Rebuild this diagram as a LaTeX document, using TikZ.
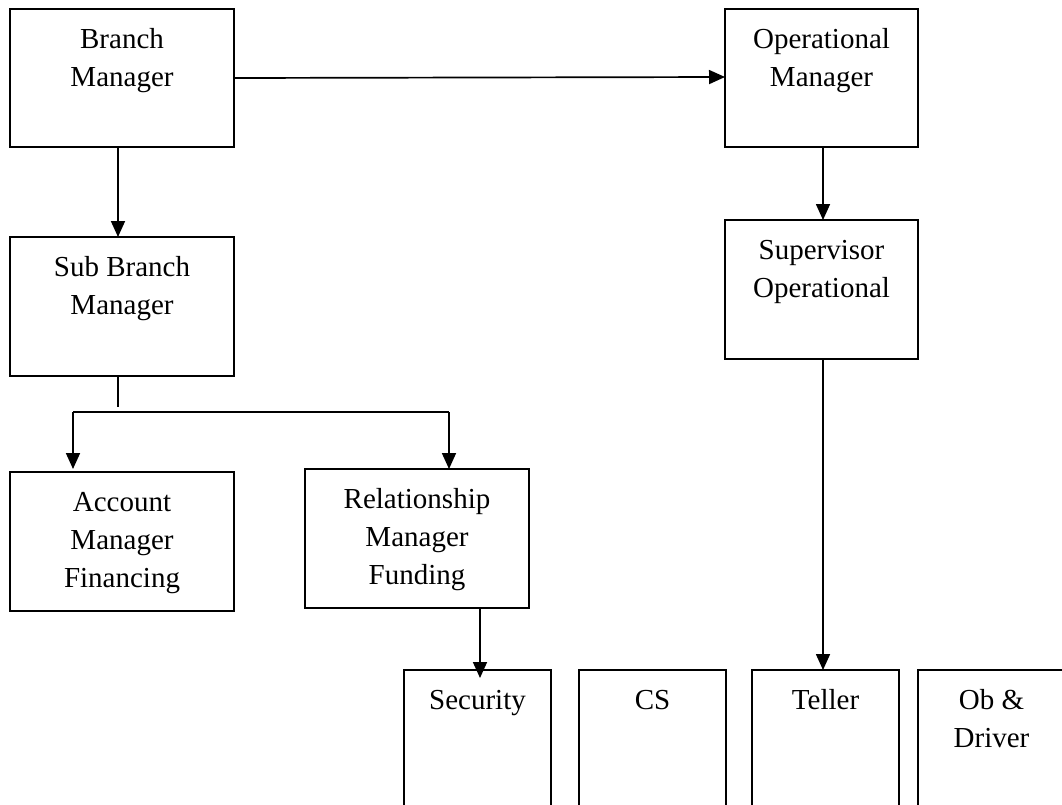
\documentclass[tikz,border=0pt]{standalone}
\usepackage{fontspec}
\setmainfont{Liberation Serif}
\usetikzlibrary{arrows.meta}
\newcommand\boxtxt[3]{\parbox[c][#2][t]{#1}{\centering\fontsize{29pt}{38pt}\selectfont\rule{0pt}{39pt}#3\par}}
\begin{document}
\begin{tikzpicture}[x=1pt,y=-1pt,
  box/.style={draw, line width=1.8pt, inner sep=0pt, outer sep=0pt},
  conn/.style={line width=1.7pt},
  arr/.style={conn, -{Triangle[length=16pt,width=14pt]}}]
\useasboundingbox (0,0) rectangle (1062,804);
\fill[white] (0,0) rectangle (1062,804);
\clip (0,0) rectangle (1062,804);
% boxes
\node[box] (bm)  at (122,78)    {\boxtxt{224pt}{138pt}{Branch\\Manager}};
\node[box] (om)  at (821.5,78)  {\boxtxt{193pt}{138pt}{Operational\\Manager}};
\node[box] (sbm) at (122,306.5) {\boxtxt{224pt}{139pt}{Sub Branch\\Manager}};
\node[box] (so)  at (821.5,289.5) {\boxtxt{193pt}{139pt}{Supervisor\\Operational}};
\node[box] (am)  at (122,541.5) {\boxtxt{224pt}{139pt}{Account\\Manager\\Financing}};
\node[box] (rm)  at (417,538.5) {\boxtxt{224pt}{139pt}{Relationship\\Manager\\Funding}};
\node[box] (sec) at (477.5,770) {\boxtxt{147pt}{200pt}{Security}};
\node[box] (cs)  at (652.5,770) {\boxtxt{147pt}{200pt}{CS}};
\node[box] (tel) at (825.5,770) {\boxtxt{147pt}{200pt}{Teller}};
\node[box] (ob)  at (991.5,770) {\boxtxt{147pt}{200pt}{Ob \&\\Driver}};
% connectors
\draw[arr] (bm.east) -- ([yshift=1pt]om.west);
\draw[arr] ([xshift=-4pt]bm.south) -- ([xshift=-4pt]sbm.north);
\draw[arr] ([xshift=1.5pt]om.south) -- ([xshift=1.5pt]so.north);
\draw[conn] ([xshift=-4pt]sbm.south) -- ++(0,31);
\coordinate (bl) at (73,412);
\coordinate (br) at (449,412);
\draw[conn] (bl) -- (br);
\draw[arr] (bl) -- ([yshift=3pt]bl |- am.north);
\draw[arr] (br) -- (br |- rm.north);
\draw[arr] ([xshift=63pt]rm.south) -- ([xshift=2.5pt,yshift=-8pt]sec.north);
\draw[arr] ([xshift=1.5pt]so.south) -- ([xshift=-2.5pt]tel.north);
\end{tikzpicture}
\end{document}
